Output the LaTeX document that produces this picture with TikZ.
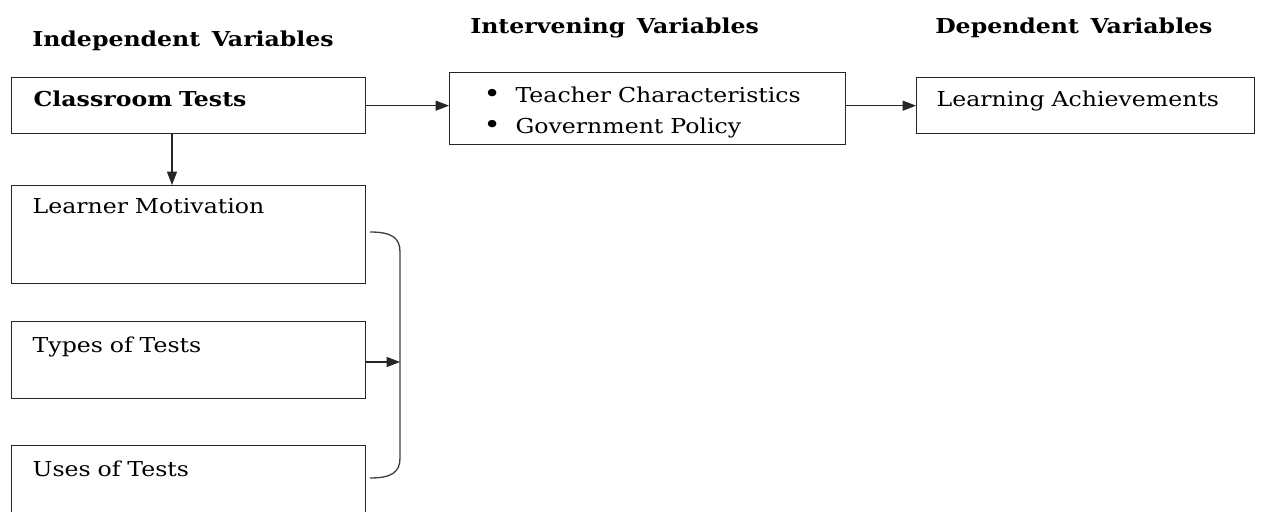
\documentclass[tikz,border=0pt]{standalone}
\usepackage{fontspec}
\setmainfont{DejaVu Serif}[WordSpace=1.4, FakeStretch=1.15]
\usetikzlibrary{arrows.meta,calc}
\begin{document}
\begin{tikzpicture}[x=0.75pt,y=-0.75pt,
  every node/.style={font=\fontsize{15.4}{23.25}\selectfont, text=black},
  box/.style={draw=black!85, line width=1pt, anchor=north west, align=left, inner ysep=0pt},
  titletext/.style={anchor=base west, inner sep=0pt, font=\fontsize{15.4}{18}\selectfont\bfseries},
  link/.style={draw=black!85, line width=0.9pt, -{Triangle[length=10pt,width=7.5pt]}},
  bracketline/.style={draw=black!75, line width=1pt}]
\useasboundingbox (0,0) rectangle (1261,511);
% titles
\node[titletext] (tind) at (32,46) {Independent Variables};
\node[titletext] (tint) at (470,33) {Intervening Variables};
\node[titletext] (tdep) at (935,33) {Dependent Variables};
% boxes
\node[box, inner xsep=16.5pt, text width=232.5pt, text height=21.75pt, text depth=20.25pt, font=\fontsize{15.4}{23.25}\selectfont\bfseries] (ct) at (11,77) {Classroom Tests};
\node[box, inner xsep=15.75pt, text width=234pt, text height=21pt, text depth=52.5pt] (lm) at (11,185) {Learner Motivation};
\node[box, inner xsep=15.75pt, text width=234pt, text height=23.25pt, text depth=34.5pt] (tt) at (11,321) {Types of Tests};
\node[box, inner xsep=15.75pt, text width=234pt, text height=23.25pt, text depth=40.5pt] (ut) at (11,445) {Uses of Tests};
\node[box, inner xsep=25.5pt, text width=246pt, text height=22.5pt, text depth=31.5pt] (mid) at (449,72)
  {\begin{tabular}[t]{@{}l@{\hspace{11pt}}l@{}}{\fontsize{19}{19}\selectfont\textbullet} & Teacher Characteristics\\ {\fontsize{19}{19}\selectfont\textbullet} & Government Policy\end{tabular}};
\node[box, inner xsep=15pt, text width=223.5pt, text height=21.75pt, text depth=20.25pt] (la) at (916,77) {Learning Achievements};
% connectors
\draw[link] (ct.east) -- (ct.east -| mid.west);
\draw[link] (la.west -| mid.east) -- (la.west);
\draw[link] ([xshift=120.75pt]ct.south west) -- ([xshift=120.75pt]lm.north west);
% bracket
\coordinate (brtop) at (370,232);
\coordinate (brbot) at (370,478);
\coordinate (brx) at (400,362);
\draw[bracketline] (brtop) .. controls (392,232) and (400,238) .. (400,252) -- (400,458) .. controls (400,472) and (392,478) .. (brbot);
\draw[link] (tt.east |- brx) -- (brx);
\end{tikzpicture}
\end{document}
